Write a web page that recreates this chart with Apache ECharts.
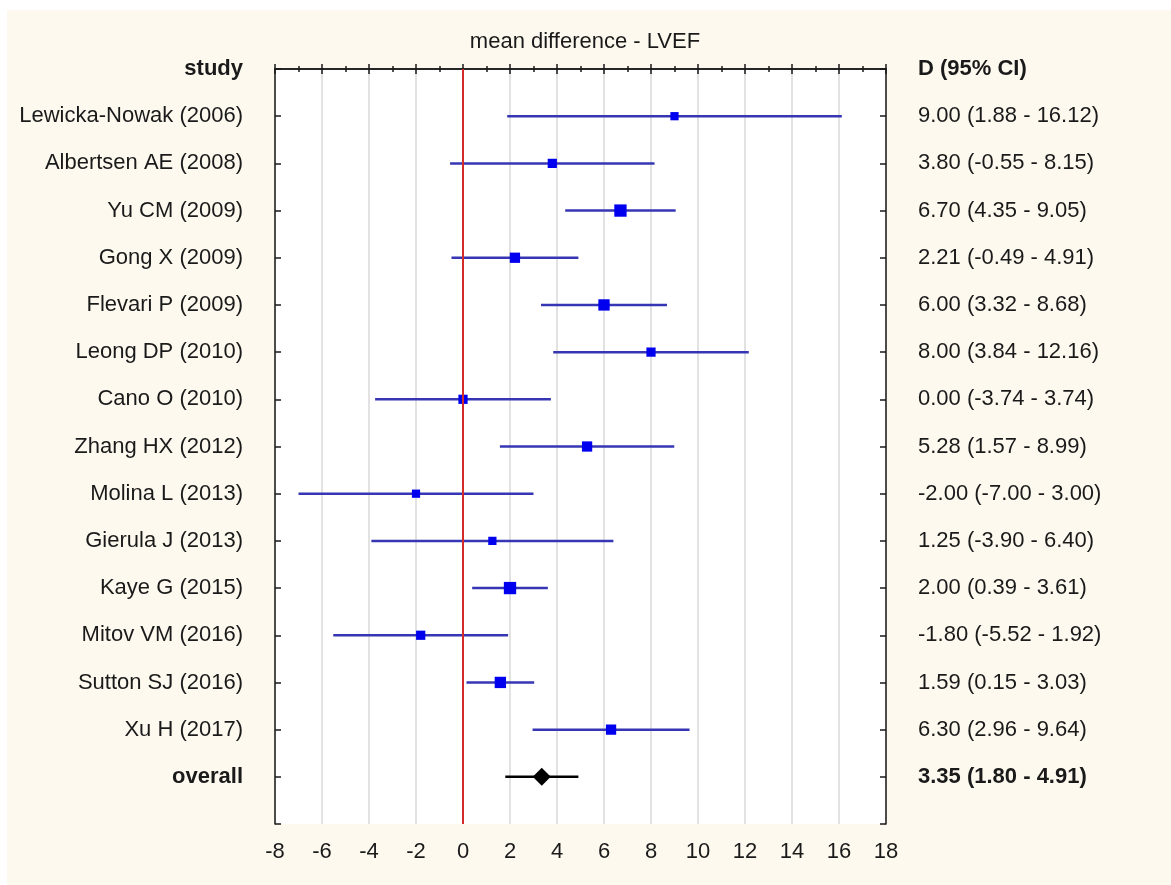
<!DOCTYPE html>
<html>
<head>
<meta charset="utf-8">
<script src="https://cdn.jsdelivr.net/npm/echarts@6/dist/echarts.min.js"></script>
<style>
  html, body { margin: 0; padding: 0; background: #ffffff; }
  #chart { position: absolute; left: 7px; top: 10px; width: 1164px; height: 875px; }
</style>
</head>
<body>
<div id="chart"></div>
<script>
const studies = [
  'Lewicka-Nowak (2006)', 'Albertsen AE (2008)', 'Yu CM (2009)', 'Gong X (2009)',
  'Flevari P (2009)', 'Leong DP (2010)', 'Cano O (2010)', 'Zhang HX (2012)',
  'Molina L (2013)', 'Gierula J (2013)', 'Kaye G (2015)', 'Mitov VM (2016)',
  'Sutton SJ (2016)', 'Xu H (2017)'
]
const estimates = [9.00, 3.80, 6.70, 2.21, 6.00, 8.00, 0.00, 5.28, -2.00, 1.25, 2.00, -1.80, 1.59, 6.30]
const lower = [1.88, -0.55, 4.35, -0.49, 3.32, 3.84, -3.74, 1.57, -7.00, -3.90, 0.39, -5.52, 0.15, 2.96]
const upper = [16.12, 8.15, 9.05, 4.91, 8.68, 12.16, 3.74, 8.99, 3.00, 6.40, 3.61, 1.92, 3.03, 9.64]
// relative study weights (%)
const weights = [4.7, 5.9, 10.5, 7.3, 8.9, 5.9, 5.9, 7.3, 4.7, 4.7, 10.5, 5.9, 8.9, 7.3]
const overall = { est: 3.35, lo: 1.80, hi: 4.91 }
const xMin = -8
const xMax = 18
const xStep = 2

const fmt = v => v.toFixed(2)
const ciText = (e, l, h) => fmt(e) + ' (' + fmt(l) + ' - ' + fmt(h) + ')'

// row 0 = header, rows 1..14 = studies, row 15 = overall
const leftLabels = ['study'].concat(studies, ['overall'])
const rightLabels = ['D (95% CI)']
  .concat(studies.map((s, i) => ciText(estimates[i], lower[i], upper[i])))
  .concat([ciText(overall.est, overall.lo, overall.hi)])

const ciData = studies.map((s, i) => [lower[i], upper[i], i + 1])
const pointData = studies.map((s, i) => [estimates[i], i + 1, weights[i]])

const font = "'Liberation Sans', Arial, sans-serif"
const labelStyle = {
  fontFamily: font,
  fontSize: 22,
  color: '#1a1a1a',
  rich: { b: { fontFamily: font, fontSize: 22, fontWeight: 'bold', color: '#1a1a1a' } }
}
const axisLineStyle = { color: '#1a1a1a', width: 1.5 }

const chart = echarts.init(document.getElementById('chart'))

const ciRender = color => (params, api) => {
  const a = api.coord([api.value(0), api.value(2)])
  const b = api.coord([api.value(1), api.value(2)])
  return {
    type: 'line',
    shape: { x1: a[0], y1: a[1], x2: b[0], y2: b[1] },
    style: { stroke: color, lineWidth: 2.5 }
  }
}

const option = {
  backgroundColor: '#fdf9ef',
  animation: false,
  title: {
    text: 'mean difference - LVEF',
    left: 573,
    top: 16,
    textAlign: 'center',
    textStyle: { fontFamily: font, fontSize: 22, fontWeight: 'normal', color: '#1a1a1a' }
  },
  grid: { left: 268, top: 59, width: 611, height: 755, backgroundColor: '#ffffff', show: true, borderWidth: 0 },
  xAxis: [
    {
      type: 'value', position: 'bottom', min: xMin, max: xMax, interval: xStep,
      axisLine: { show: true, lineStyle: axisLineStyle },
      axisTick: { show: true, inside: true, length: 5, lineStyle: axisLineStyle },
      minorTick: { show: true, splitNumber: 2, length: 3, lineStyle: { color: '#1a1a1a', width: 1.5 } },
      axisLabel: { ...labelStyle, margin: 17 },
      splitLine: { show: true, lineStyle: { color: '#d8d8d8', width: 1.5 } }
    },
    {
      type: 'value', position: 'top', min: xMin, max: xMax, interval: xStep,
      axisLine: { show: true, onZero: false, lineStyle: axisLineStyle },
      axisTick: { show: true, inside: true, length: 5, lineStyle: axisLineStyle },
      minorTick: { show: true, splitNumber: 2, length: 3, lineStyle: { color: '#1a1a1a', width: 1.5 } },
      axisLabel: { show: false },
      splitLine: { show: false }
    }
  ],
  yAxis: [
    {
      type: 'value', position: 'left', inverse: true, min: 0, max: 16, interval: 1,
      axisLine: { show: true, onZero: false, lineStyle: axisLineStyle },
      axisTick: { show: true, inside: true, length: 6, lineStyle: axisLineStyle },
      axisLabel: {
        ...labelStyle, margin: 32,
        formatter: v => {
          const t = leftLabels[v] || ''
          return (v === 0 || v === 15) ? '{b|' + t + '}' : t
        }
      },
      splitLine: { show: false }
    },
    {
      type: 'value', position: 'right', inverse: true, min: 0, max: 16, interval: 1,
      axisLine: { show: true, onZero: false, lineStyle: axisLineStyle },
      axisTick: { show: true, inside: true, length: 6, lineStyle: axisLineStyle },
      axisLabel: {
        ...labelStyle, margin: 32,
        formatter: v => {
          const t = rightLabels[v] || ''
          return (v === 0 || v === 15) ? '{b|' + t + '}' : t
        }
      },
      splitLine: { show: false }
    }
  ],
  series: [
    {
      type: 'custom',
      renderItem: ciRender('#3636b4'),
      encode: { x: [0, 1], y: 2 },
      data: ciData,
      z: 3,
      markLine: {
        silent: true,
        symbol: 'none',
        label: { show: false },
        lineStyle: { color: '#d42a2a', width: 2, type: 'solid' },
        data: [{ xAxis: 0 }]
      }
    },
    {
      type: 'scatter',
      symbol: 'rect',
      symbolSize: d => Math.sqrt(d[2]) * 3.8,
      itemStyle: { color: '#0000ee', opacity: 1 },
      data: pointData,
      z: 4
    },
    {
      type: 'custom',
      renderItem: ciRender('#000000'),
      encode: { x: [0, 1], y: 2 },
      data: [[overall.lo, overall.hi, 15]],
      z: 3
    },
    {
      type: 'scatter',
      symbol: 'diamond',
      symbolSize: [18, 18],
      itemStyle: { color: '#000000', opacity: 1 },
      data: [[overall.est, 15]],
      z: 4
    }
  ]
}

chart.setOption(option)
</script>
</body>
</html>
